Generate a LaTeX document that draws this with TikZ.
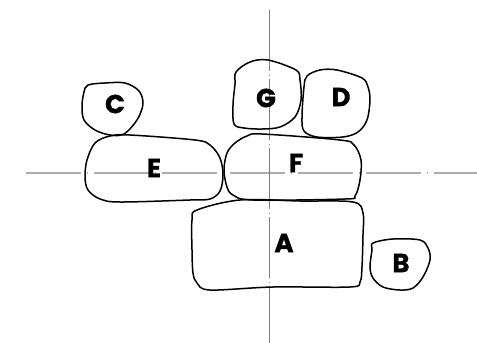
\documentclass[tikz,border=0pt]{standalone}
\usepackage{fontspec}
\newfontfamily\lblfont{Poppins}[BoldFeatures={FakeBold=1.2}]
\definecolor{AxisClr}{rgb}{0.68,0.68,0.68}
\definecolor{AxisVClr}{rgb}{0.5,0.5,0.5}

\tikzset{blob/.style={line width=0.75pt,black,line join=round},
  lbl/.style={font=\lblfont\bfseries\fontsize{13}{13}\selectfont,inner sep=0pt}}

\begin{document}
\begin{tikzpicture}[x=0.5pt,y=-0.5pt]
\useasboundingbox (0,0) rectangle (477,343);

% center lines
\coordinate (hl) at (22,173);
\coordinate (hr) at (477,173);
\coordinate (vt) at (269,10);
\coordinate (vb) at (269,343);
\draw[AxisClr,line width=1pt,dash pattern=on 27.5pt off 3pt on 0.5pt off 3pt,dash phase=32pt] (hl) -- (hr);
\draw[AxisVClr,line width=0.45pt,dash pattern=on 30.5pt off 1.75pt on 0.5pt off 1.75pt] (vt) -- (vb);

% shapes
\draw[blob] plot[smooth cycle,tension=0.55] coordinates {(88,85) (105,83) (125,83) (139,91) (143,104) (137,120) (124,134) (110,135) (95,130) (84,120) (82,106) (84,92)};
\draw[blob] plot[smooth cycle,tension=0.55] coordinates {(95,143) (110,136) (130,135) (195,140) (210,145) (220,158) (223,175) (220,191) (210,199) (190,200) (120,202) (100,199) (88,190) (85,177) (87,160)};
\draw[blob] plot[smooth cycle,tension=0.55] coordinates {(236,72) (250,62) (268,60) (296,70) (300,80) (301,100) (295,117) (280,127) (262,129) (244,128) (234,124) (233,105) (235,84)};
\draw[blob] plot[smooth cycle,tension=0.55] coordinates {(307,76) (320,70) (337,70) (362,78) (368,87) (370,100) (367,120) (358,132) (343,137) (317,137) (304,131) (302,117) (304,87)};
\draw[blob] plot[smooth cycle,tension=0.55] coordinates {(235,143) (247,136) (262,134) (340,140) (354,145) (361,160) (360,180) (355,196) (345,199) (253,200) (233,195) (227,187) (224,170) (227,153)};
\draw[blob] plot[smooth cycle,tension=0.55] coordinates {(197,210) (240,200) (300,201) (353,202) (363,213) (363,235) (362,267) (360,282) (350,287) (273,287) (210,290) (197,283) (193,273) (192,250) (192,220)};
\draw[blob] plot[smooth cycle,tension=0.55] coordinates {(373,243) (393,239) (420,240) (428,248) (430,260) (423,277) (413,288) (400,290) (383,287) (373,278) (370,267) (372,250)};

% labels
\node[lbl] (A) at (284,243) {A};
\node[lbl] (B) at (401,263) {B};
\node[lbl] (C) at (115,104) {C};
\node[lbl] (D) at (341,97) {D};
\node[lbl] (E) at (154,168) {E};
\node[lbl] (F) at (296,163) {F};
\node[lbl] (G) at (266,98) {G};
\end{tikzpicture}
\end{document}
